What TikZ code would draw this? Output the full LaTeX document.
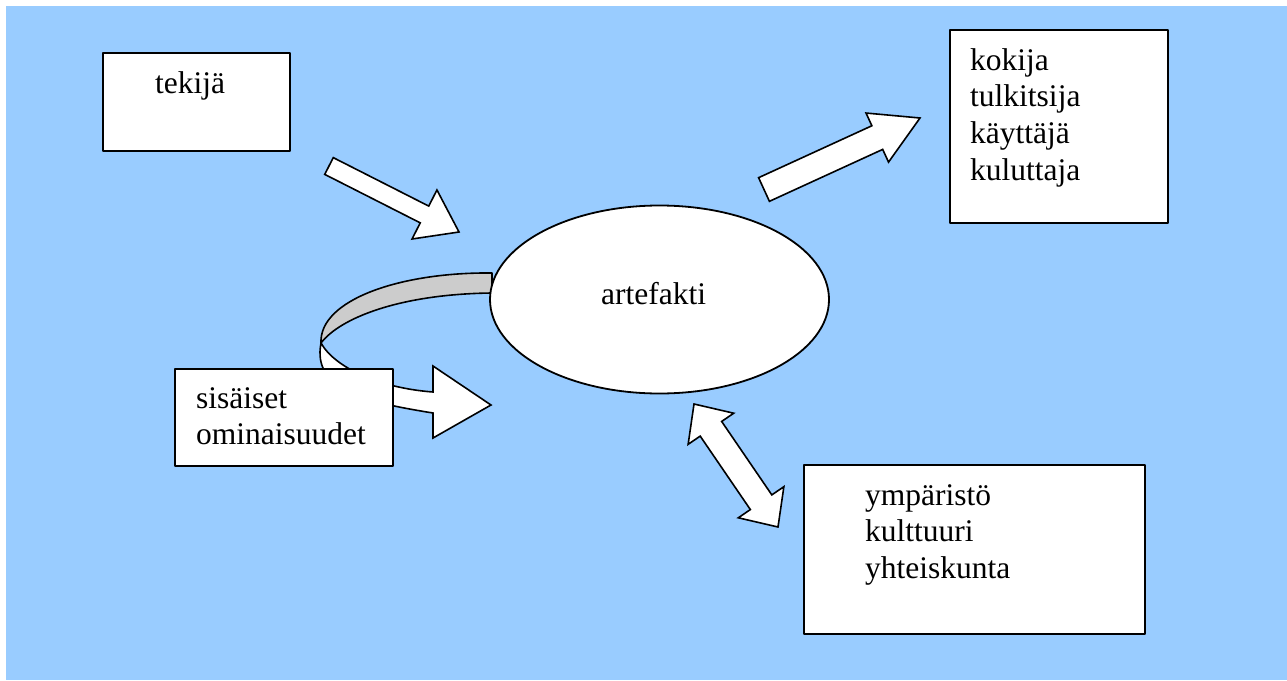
\documentclass[tikz,border=0pt]{standalone}
\usepackage{fontspec}
\setmainfont{Liberation Serif}
\usetikzlibrary{calc,shapes.geometric}
\definecolor{skyblue}{HTML}{99CCFF}
\definecolor{bandgrey}{HTML}{CCCCCC}

% straight block arrow: #1 tail centre, #2 tip, #3 half shaft width,
% #4 half head width, #5 head length
\newcommand{\blockarrow}[5]{%
  \coordinate (neck) at ($(#2)!#5!(#1)$);
  \draw[arrowbody] ($(#1)!#3!90:(#2)$) -- ($(neck)!#3!90:(#2)$)
    -- ($(neck)!#4!90:(#2)$) -- (#2) -- ($(neck)!#4!-90:(#2)$)
    -- ($(neck)!#3!-90:(#2)$) -- ($(#1)!#3!-90:(#2)$) -- cycle;}

% block arrow with a head at both ends: #1, #2 tips, #3 half shaft width,
% #4 half head width, #5 head length
\newcommand{\twowayarrow}[5]{%
  \coordinate (neckA) at ($(#1)!#5!(#2)$);
  \coordinate (neckB) at ($(#2)!#5!(#1)$);
  \draw[arrowbody] (#1) -- ($(neckA)!#4!90:(#2)$) -- ($(neckA)!#3!90:(#2)$)
    -- ($(neckB)!#3!-90:(#1)$) -- ($(neckB)!#4!-90:(#1)$) -- (#2)
    -- ($(neckB)!#4!90:(#1)$) -- ($(neckB)!#3!90:(#1)$)
    -- ($(neckA)!#3!-90:(#2)$) -- ($(neckA)!#4!-90:(#2)$) -- cycle;}

\begin{document}
\begin{tikzpicture}[x=1pt,y=-1pt,
  box/.style={draw=black,fill=white,line width=1.8pt,rectangle,inner sep=0pt},
  label/.style={inner sep=0pt,anchor=base west,
    font=\fontsize{31.5}{36.8}\selectfont},
  arrowbody/.style={draw=black,fill=white,line width=1.6pt,line join=miter},
  line join=round]

% page and backdrop
\useasboundingbox (0,0) rectangle (1287,680);
\fill[skyblue] (6,6) rectangle (1287,680);

% twisted ribbon: back side (grey) leaving the artefact
\draw[fill=bandgrey,line width=1.6pt]
  (492,273) .. controls (400,272) and (319,300) .. (321,343)
  .. controls (340,318) and (400,294) .. (492,293) -- cycle;
% front side of the ribbon turning into the arrow head
\draw[arrowbody]
  (321,343) .. controls (335,368) and (380,388) .. (433,392)
  -- (433,366) -- (491,405) -- (433,438) -- (433,413)
  .. controls (365,402) and (312,390) .. (321,343) -- cycle;

% boxes
\node[box,minimum width=187pt,minimum height=98pt] (maker) at (196.5,102) {};
\node[box,minimum width=218pt,minimum height=193pt] (users) at (1059,126.5) {};
\node[box,minimum width=218pt,minimum height=97pt] (inner) at (284,417.5) {};
\node[box,minimum width=341pt,minimum height=169pt] (context) at (974.5,549.5) {};
\node[box,ellipse,minimum width=339pt,minimum height=188pt] (artefact) at (659.5,299.5) {};

% texts
\node[label] (makertext) at (155,93) {tekijä};
\node[label] (userstext) at (970,70)
  {\begin{tabular}[t]{@{}l@{}}kokija\\tulkitsija\\käyttäjä\\kuluttaja\end{tabular}};
\node[label] (innertext) at (196,408)
  {\begin{tabular}[t]{@{}l@{}}sisäiset\\ominaisuudet\end{tabular}};
\node[label] (contexttext) at (865,505)
  {\begin{tabular}[t]{@{}l@{}}ympäristö\\kulttuuri\\yhteiskunta\end{tabular}};
\node[label] (artefacttext) at (601,304) {artefakti};

% arrow end points
\coordinate (makerOut) at (329,166);
\coordinate (artefactIn) at (459,232);
\coordinate (artefactOut) at (764,189.5);
\coordinate (usersIn) at (920,118);
\coordinate (artefactLink) at (694,404);
\coordinate (contextLink) at (778,527);

% block arrows
\blockarrow{makerOut}{artefactIn}{9.4pt}{27.5pt}{38.7pt}
\blockarrow{artefactOut}{usersIn}{13pt}{27pt}{47pt}
\twowayarrow{artefactLink}{contextLink}{13pt}{27.6pt}{30pt}

\end{tikzpicture}
\end{document}
